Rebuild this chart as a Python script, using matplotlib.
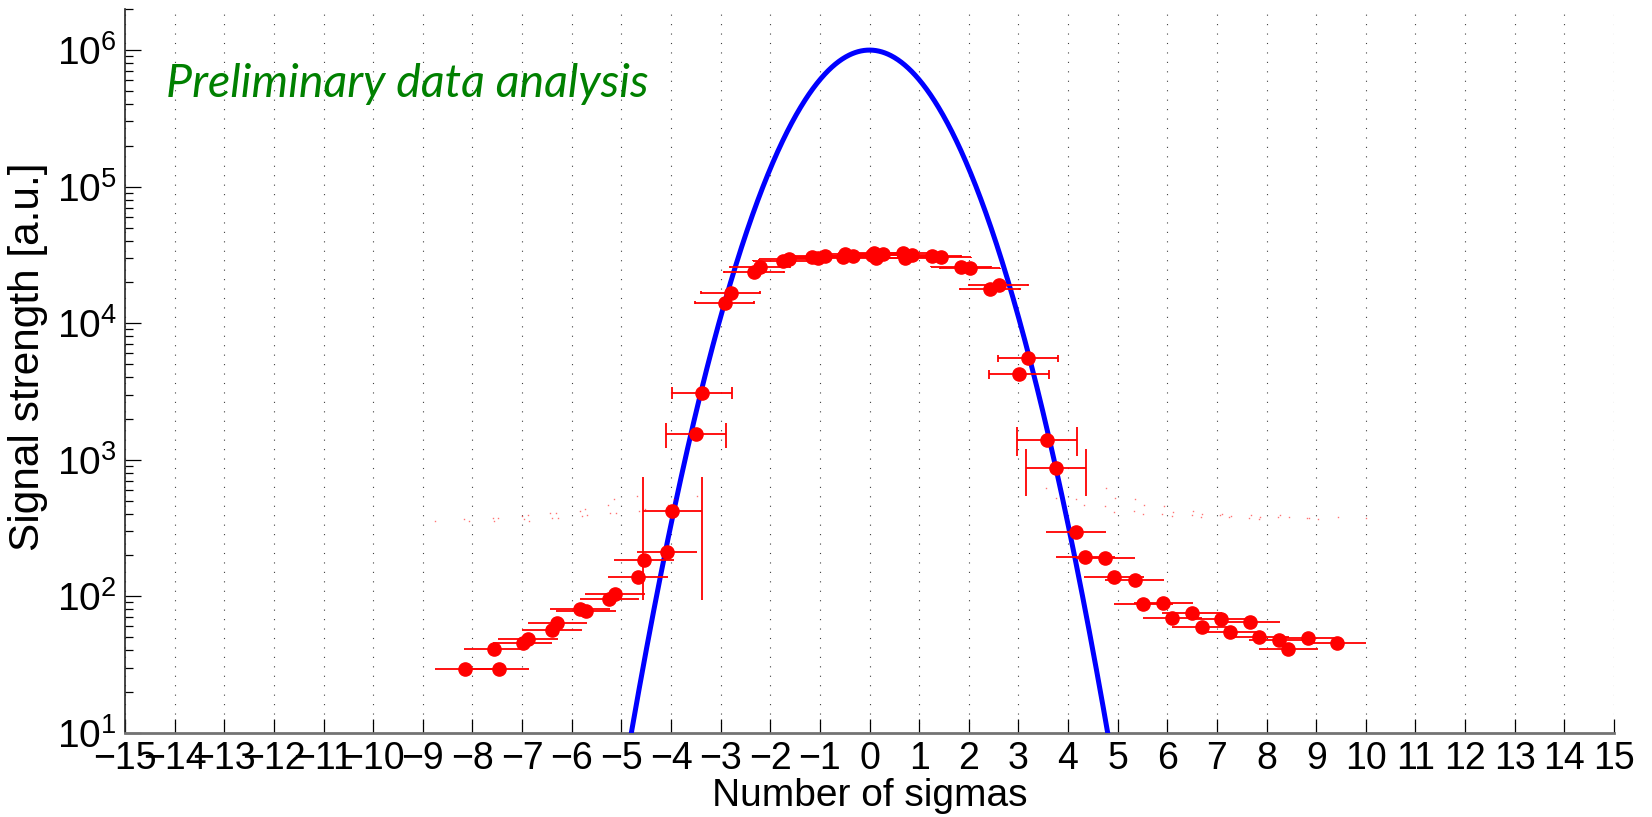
import numpy as np
import matplotlib
matplotlib.use('Agg')
import matplotlib.pyplot as plt
from matplotlib.ticker import LogLocator, NullFormatter, MultipleLocator

plt.rcParams['font.family'] = ['Liberation Sans', 'DejaVu Sans']
plt.rcParams['mathtext.fontset'] = 'custom'
plt.rcParams['mathtext.rm'] = 'Liberation Sans'
plt.rcParams['mathtext.it'] = 'Liberation Sans:italic'

# measured beam profile (position in sigmas, signal in a.u.)
sigma_pos = [-8.16, -7.57, -7.46, -6.99, -6.88, -6.40, -6.29, -5.83, -5.71, -5.24,
             -5.13, -4.66, -4.54, -4.08, -3.97, -3.50, -3.38, -2.92, -2.80, -2.33,
             -2.21, -1.74, -1.63, -1.16, -1.03, -0.90, -0.53, -0.49, -0.33, 0.04,
             0.09, 0.13, 0.27, 0.68, 0.72, 0.86, 1.25, 1.45, 1.84, 2.02,
             2.43, 2.60, 3.01, 3.19, 3.58, 3.76, 4.16, 4.35, 4.75, 4.93,
             5.34, 5.52, 5.92, 6.10, 6.50, 6.69, 7.09, 7.27, 7.67, 7.85,
             8.25, 8.44, 8.84, 9.41]
signal = [29.1, 40.8, 29.1, 45.6, 48.8, 56.5, 63.3, 80.1, 77.9, 94.9,
          103.7, 137.5, 184, 212, 421, 1535, 3097, 14130, 16720, 23810,
          25660, 28700, 29380, 30690, 30180, 31200, 30690, 32130, 31050, 31400,
          32830, 30080, 32000, 32520, 29920, 31620, 31050, 30390, 25930, 25220,
          17700, 19040, 4230, 5530, 1393, 873, 294, 193, 191, 138,
          131, 87.3, 89.6, 68.9, 74.9, 59.2, 67.7, 55.0, 64.4, 50.0,
          47.8, 41.0, 49.6, 45.2]
sigma_err = 0.6

# gaussian reference beam
peak = 1e6
width = 1.0

x = np.array(sigma_pos)
y = np.array(signal)

fig = plt.figure(figsize=(16.52, 8.17), dpi=100)
ax = fig.add_axes([0.0757, 0.1032, 0.9013, 0.8858])

xs = np.linspace(-6, 6, 1201)
ax.plot(xs, peak * np.exp(-xs**2 / (2 * width**2)), color='#0000ff', lw=3.6, zorder=3)

# horizontal error bars with herrorbar-style tees (height fixed in data units)
tee = (y.max() - y.min()) / 100
ax.hlines(y, x - sigma_err, x + sigma_err, color='red', lw=1.3, zorder=4)
big = y > tee
for side in (-1, 1):
    ax.vlines(x[big] + side * sigma_err, y[big] - tee, y[big] + tee, color='red', lw=1.3, zorder=4)
    # tees that dip below zero only leave their top end on a log axis
    ax.plot(x[~big] + side * sigma_err, y[~big] + tee, ls='none', marker='s', ms=1.0,
            mec='none', mfc='red', alpha=0.55, zorder=4)
ax.plot(x, y, ls='none', marker='o', ms=9.5, mfc='red', mec='red', zorder=5)

ax.set_yscale('log')
ax.set_xlim(-15, 15)
ax.set_ylim(10, 2e6)
ax.xaxis.set_major_locator(MultipleLocator(1))
ax.yaxis.set_major_locator(LogLocator(base=10))
ax.yaxis.set_minor_locator(LogLocator(base=10, subs=np.arange(2, 10)))
ax.yaxis.set_minor_formatter(NullFormatter())

ax.grid(True, axis='x', color='0.25', ls=(0, (1, 7.5)), lw=0.8)
ax.set_axisbelow(True)

for s in ('top', 'right'):
    ax.spines[s].set_visible(False)
ax.spines['bottom'].set_color('0.45')
ax.spines['bottom'].set_linewidth(2)
ax.spines['left'].set_color('0.15')
ax.spines['left'].set_linewidth(1.2)

ax.tick_params(axis='x', which='major', direction='in', length=10, width=0.9,
               labelsize=27, pad=6, top=False)
ax.tick_params(axis='y', which='major', direction='in', length=11.5, width=0.9,
               labelsize=28, pad=6, right=False)
ax.tick_params(axis='y', which='minor', direction='in', length=5.8, width=0.9, right=False)

ax.set_xlabel('Number of sigmas', fontsize=28, labelpad=1)
ax.set_ylabel('Signal strength [a.u.]', fontsize=30.5)
ax.yaxis.set_label_coords(-0.052, 0.52)

ax.text(0.0275, 0.878, 'Preliminary data analysis', transform=ax.transAxes,
        family=['Lato', 'DejaVu Sans'], style='italic', fontsize=33.5,
        color='#008000', va='baseline', ha='left')

fig.savefig('out.png', dpi=100)
